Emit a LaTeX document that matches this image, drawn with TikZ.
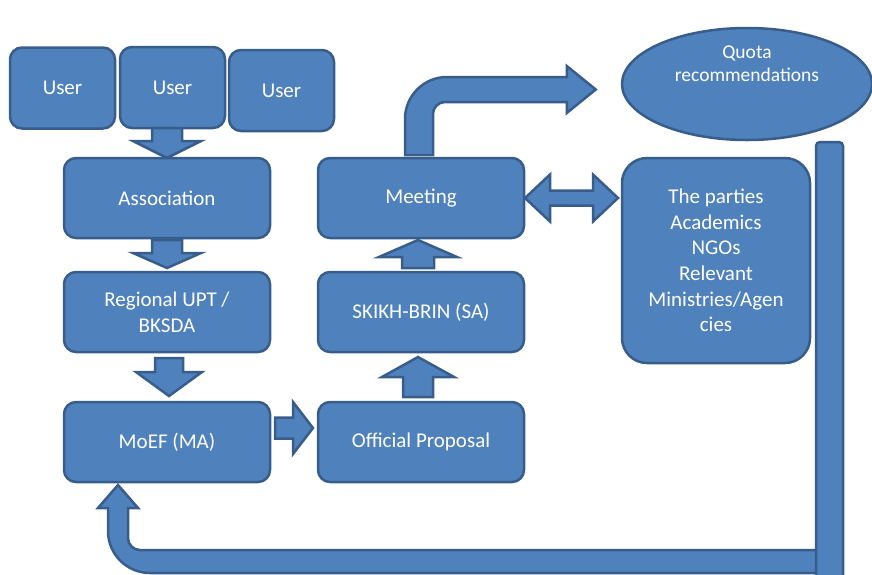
\documentclass[tikz,border=0pt]{standalone}
\usepackage{fontspec}
\setmainfont{Carlito}
\usetikzlibrary{shapes.geometric, positioning, calc}
\definecolor{boxfill}{RGB}{79,129,189}
\definecolor{boxline}{RGB}{56,93,138}
\tikzset{
  box/.style={rectangle, minimum width=206pt, minimum height=80pt, align=center, draw=boxline, fill=boxfill, text=white, font=\fontsize{21}{25.6}\selectfont, rounded corners=12pt, line width=2.5pt, outer sep=0pt},
  userbox/.style={box, minimum width=105pt, minimum height=81pt},
  blk/.style={draw=boxline, fill=boxfill, line width=2.5pt},
}
% block arrow: start, tip, shaft half width, head half width, head length
\newcommand{\blockarrow}[5]{%
  \coordinate (ba-s) at (#1);
  \coordinate (ba-e) at (#2);
  \coordinate (ba-h) at ($(ba-e)!#5!(ba-s)$);
  \draw[blk] ($(ba-s)!#3!90:(ba-e)$) -- ($(ba-h)!#3!90:(ba-e)$) -- ($(ba-h)!#4!90:(ba-e)$) -- (ba-e)
    -- ($(ba-h)!#4!-90:(ba-e)$) -- ($(ba-h)!#3!-90:(ba-e)$) -- ($(ba-s)!#3!-90:(ba-e)$) -- cycle;}
% double block arrow: end, end, shaft half width, head half width, head length
\newcommand{\dblarrow}[5]{%
  \coordinate (da-s) at (#1);
  \coordinate (da-e) at (#2);
  \coordinate (da-hs) at ($(da-s)!#5!(da-e)$);
  \coordinate (da-he) at ($(da-e)!#5!(da-s)$);
  \draw[blk] (da-s) -- ($(da-hs)!#4!90:(da-e)$) -- ($(da-hs)!#3!90:(da-e)$) -- ($(da-he)!#3!90:(da-e)$)
    -- ($(da-he)!#4!90:(da-e)$) -- (da-e) -- ($(da-he)!#4!-90:(da-e)$) -- ($(da-he)!#3!-90:(da-e)$)
    -- ($(da-hs)!#3!-90:(da-e)$) -- ($(da-hs)!#4!-90:(da-e)$) -- cycle;}

\begin{document}
\begin{tikzpicture}[x=1pt, y=1pt]
\useasboundingbox (0,0) rectangle (872,-574);
% users
\node (u1) [userbox] at (62.5,-88) {User};
\node (u2) [userbox] at (172.5,-87.5) {User};
\node (u3) [userbox] at (281.5,-90.5) {User};
% left column
\node (assoc) [box] at (167,-198) {Association};
\node (reg) [box, below=34pt of assoc] {Regional UPT /\\BKSDA};
\node (moef) [box, below=50pt of reg] {MoEF (MA)};
% right column
\node (meeting) [box, right=48pt of assoc] {Meeting};
\node (skikh) [box, right=48pt of reg] {SKIKH-BRIN (SA)};
\node (official) [box, right=48pt of moef] {Official Proposal};
\node (parties) [box, minimum width=188pt, minimum height=205pt, rounded corners=25pt] at (716,-260.5) {The parties\\Academics\\NGOs\\Relevant\\Ministries/Agen\\cies};
\node (quota) [ellipse, draw=boxline, fill=boxfill, line width=2.5pt, minimum width=250pt, minimum height=112pt] at (747,-84) {};
\node (quotatxt) [text=white, align=center, font=\fontsize{19.5}{23}\selectfont] at ([yshift=20pt]quota.center) {Quota\\recommendations};
\coordinate (bartop) at (829.5,-142);
\coordinate (barbot) at (829.5,-561.5);

\blockarrow{assoc.north |- u2.south}{assoc.north}{15pt}{34pt}{17pt}
\blockarrow{[yshift=-2pt]assoc.south}{[yshift=4pt]reg.north}{15pt}{34pt}{15pt}
\blockarrow{[shift={(2pt,-6pt)}]reg.south}{[shift={(2pt,6pt)}]moef.north}{14pt}{33pt}{24pt}
\blockarrow{[shift={(5pt,14pt)}]moef.east}{[shift={(-5pt,14pt)}]official.west}{10.5pt}{26pt}{20pt}
\blockarrow{[shift={(-3pt,5pt)}]official.north}{[shift={(-3pt,-5pt)}]skikh.south}{15pt}{36pt}{20pt}
\blockarrow{[shift={(-3pt,4pt)}]skikh.north}{[shift={(-3pt,-2pt)}]meeting.south}{16pt}{39pt}{17pt}
\dblarrow{[xshift=1pt]meeting.east}{$(parties.west |- meeting.east)+(-4pt,0)$}{7.5pt}{23.5pt}{25pt}

% meeting -> quota
\draw[blk] let \p1=(meeting.north), \p2=(quota.west) in
  (\x1-16pt,\y1+3pt) -- (\x1-16pt,\y2-35pt) arc[start angle=180, end angle=90, radius=42pt]
  -- (\x2-54pt,\y2+7pt) -- (\x2-54pt,\y2+18pt) -- (\x2-25pt,\y2-5.5pt) -- (\x2-54pt,\y2-29pt)
  -- (\x2-54pt,\y2-18pt) -- (\x1+24pt,\y2-18pt) arc[start angle=90, end angle=180, radius=12pt]
  -- (\x1+12pt,\y1+3pt) -- cycle;
% return to moef
\draw[blk] let \p1=(moef.south), \p2=(barbot) in
  (\x2,\y2+11.5pt) -- (\x1-27pt,\y2+11.5pt) arc[start angle=270, end angle=180, radius=12pt]
  -- (\x1-39pt,\y1-26pt) -- (\x1-29pt,\y1-26pt) -- (\x1-49pt,\y1-3pt) -- (\x1-69pt,\y1-26pt)
  -- (\x1-59pt,\y1-26pt) -- (\x1-59pt,\y2-11.5pt+42pt) arc[start angle=180, end angle=270, radius=42pt]
  -- (\x2,\y2-11.5pt) -- cycle;
\draw[blk, rounded corners=4pt] ([xshift=-13.5pt]bartop) rectangle ([shift={(13.5pt,-30pt)}]barbot);
\end{tikzpicture}
\end{document}
